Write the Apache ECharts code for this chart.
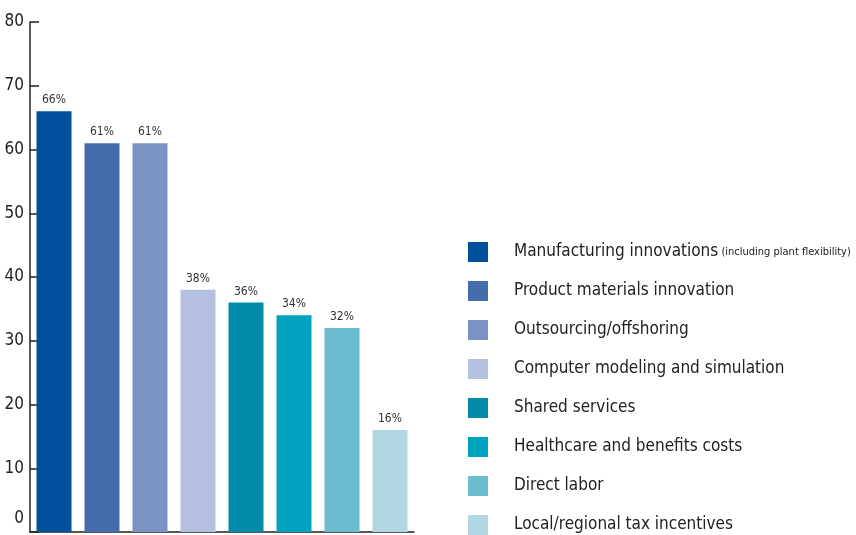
<!DOCTYPE html>
<html>
<head>
<meta charset="utf-8">
<script src="https://cdn.jsdelivr.net/npm/echarts@6/dist/echarts.min.js"></script>
<style>
  html, body { margin: 0; padding: 0; background: #fff; }
  #chart { width: 856px; height: 535px; }
</style>
</head>
<body>
<div id="chart"></div>
<script>
// Survey responses: share of respondents per cost-reduction lever
const categories = [
  'Manufacturing innovations',
  'Product materials innovation',
  'Outsourcing/offshoring',
  'Computer modeling and simulation',
  'Shared services',
  'Healthcare and benefits costs',
  'Direct labor',
  'Local/regional tax incentives'
];
const values = [66, 61, 61, 38, 36, 34, 32, 16];
const colors = ['#00509b', '#456cad', '#7b93c3', '#b5bfdf', '#018ba8', '#00a3bf', '#6bbccf', '#b1d8e2'];
const yTicks = { min: 0, max: 80, interval: 10 };

const FONT = '"Liberation Sans Narrow", "DejaVu Sans Condensed", "Roboto Condensed", sans-serif';

// One series per category so each bar gets its own legend entry
const series = categories.map((name, i) => ({
  name: name,
  type: 'bar',
  barWidth: 35,
  barGap: '-100%',
  itemStyle: { color: colors[i] },
  label: {
    show: true,
    position: 'top',
    distance: 5,
    formatter: '{c}%',
    color: '#333',
    fontSize: 12,
    fontFamily: FONT
  },
  data: categories.map((_, j) => (j === i ? values[i] : '-'))
}));

const chart = echarts.init(document.getElementById('chart'), null, { renderer: 'canvas' });
chart.setOption({
  animation: false,
  grid: { left: 30, right: 442, top: 22, bottom: 3, containLabel: false },
  xAxis: {
    type: 'category',
    data: categories,
    axisLine: { lineStyle: { color: '#222', width: 1.5 } },
    axisTick: { inside: true, length: 12, lineStyle: { color: '#222', width: 1.5 } },
    axisLabel: { show: false },
    splitLine: { show: false }
  },
  yAxis: {
    type: 'value',
    min: yTicks.min,
    max: yTicks.max,
    interval: yTicks.interval,
    axisLine: { show: true, lineStyle: { color: '#222', width: 1.5 } },
    axisTick: { show: true, inside: true, length: 9, lineStyle: { color: '#222', width: 1.5 } },
    splitLine: { show: false },
    axisLabel: {
      margin: 6,
      color: '#222',
      fontSize: 17,
      fontFamily: FONT,
      formatter: v => (v === 0 ? '{z|0}' : String(v)),
      rich: { z: { fontSize: 17, fontFamily: FONT, color: '#222', padding: [0, 0, 26, 0] } }
    }
  },
  legend: {
    orient: 'vertical',
    left: 468,
    top: 242,
    height: 300,
    padding: 0,
    icon: 'rect',
    itemWidth: 20,
    itemHeight: 20,
    itemGap: 19,
    selectedMode: false,
    data: categories,
    formatter: name => (categories.indexOf(name) === 0
      ? '{t|' + name + '}{s| (including plant flexibility)}'
      : '{t|' + name + '}'),
    textStyle: {
      lineHeight: 20,
      rich: {
        t: { fontSize: 17, lineHeight: 20, fontFamily: FONT, color: '#222', padding: [0, 0, 0, 21] },
        s: { fontSize: 11, lineHeight: 20, fontFamily: FONT, color: '#222' }
      }
    }
  },
  series: series
});
</script>
</body>
</html>
